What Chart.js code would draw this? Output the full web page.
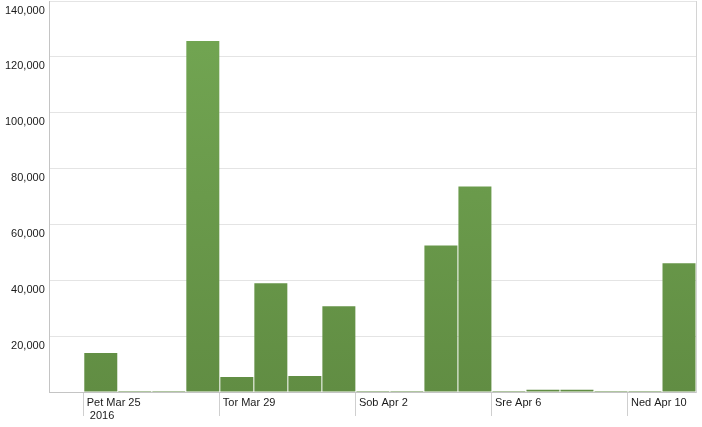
<!DOCTYPE html>
<html>
<head>
<meta charset="utf-8">
<script src="https://cdn.jsdelivr.net/npm/chart.js@4"></script>
<style>
	html, body { margin: 0; padding: 0; background: #fff; }
	#wrap { width: 702px; height: 427px; }
</style>
</head>
<body>
<div id="wrap"><canvas id="chart"></canvas></div>
<script>
// one slot per day, Mar 24 .. Apr 11 (2016)
const days = ['Mar 24', 'Mar 25', 'Mar 26', 'Mar 27', 'Mar 28', 'Mar 29', 'Mar 30', 'Mar 31',
	'Apr 1', 'Apr 2', 'Apr 3', 'Apr 4', 'Apr 5', 'Apr 6', 'Apr 7', 'Apr 8', 'Apr 9', 'Apr 10', 'Apr 11'];
const values = [null, 14000, 350, 350, 125700, 5400, 38900, 5700,
	30700, 350, 350, 52500, 73600, 350, 800, 800, 350, 350, 46100];

// labelled ticks on the time axis
const tickDays = ['Mar 25', 'Mar 29', 'Apr 2', 'Apr 6', 'Apr 10'];
const tickWeekdays = ['Pet', 'Tor', 'Sob', 'Sre', 'Ned'];
const yearLabel = '2016';

const yTicks = [0, 20000, 40000, 60000, 80000, 100000, 120000, 140000];

Chart.defaults.font.family = '"Liberation Sans", Arial, sans-serif';
Chart.defaults.font.size = 11;

function barFill(context) {
	const chart = context.chart;
	const area = chart.chartArea;
	if (!area) return '#66924a';
	const g = chart.ctx.createLinearGradient(0, area.top, 0, area.bottom);
	g.addColorStop(0, '#73a753');
	g.addColorStop(1, '#618d43');
	return g;
}

function dayLabel(index) {
	const k = tickDays.indexOf(days[index]);
	if (k < 0) return '';
	const text = tickWeekdays[k] + ' ' + tickDays[k];
	return k === 0 ? [text, ' ' + yearLabel] : text;
}

function isLabelled(index) {
	return tickDays.indexOf(days[index]) >= 0;
}

let chartID = document.getElementById('chart');
new Chart(chartID, {
	type: 'bar',
	data: {
		labels: days,
		datasets: [{
			data: values,
			backgroundColor: barFill,
			borderWidth: 0,
			barPercentage: 0.97,
			categoryPercentage: 1
		}]
	},
	options: {
		responsive: true,
		maintainAspectRatio: false,
		animation: false,
		layout: { padding: { left: 5, right: 6, top: 1, bottom: 0 } },
		plugins: {
			legend: { display: false },
			tooltip: { enabled: false }
		},
		scales: {
			x: {
				offset: true,
				grid: {
					offset: true,
					drawOnChartArea: false,
					tickLength: 24,
					color: ctx => (ctx.index !== undefined && ctx.tick && isLabelled(ctx.index)) ? '#cfcfcf' : 'rgba(0,0,0,0)'
				},
				border: { display: true, color: '#c4c4c4' },
				// empty title only reserves room under the labels
				title: { display: true, text: '', padding: { top: 6, bottom: 5.4 } },
				ticks: {
					autoSkip: false,
					maxRotation: 0,
					align: 'start',
					labelOffset: -14,
					padding: -20,
					color: '#1a1a1a',
					font: { lineHeight: 1.2 },
					callback: (value, index) => dayLabel(index)
				}
			},
			y: {
				min: 0,
				max: 140000,
				afterBuildTicks: scale => { scale.ticks = yTicks.map(v => ({ value: v })); },
				grid: { color: '#e4e4e4', drawTicks: true, tickLength: 5, tickColor: 'rgba(0,0,0,0)' },
				border: { display: true, color: '#c4c4c4' },
				ticks: {
					align: 'start',
					labelOffset: 4,
					padding: 0,
					color: '#1a1a1a',
					callback: v => v === 0 ? '' : v.toLocaleString('en-US')
				}
			},
			y2: {
				position: 'right',
				min: 0,
				max: 140000,
				grid: { drawOnChartArea: false, drawTicks: false },
				border: { display: true, color: '#d4d4d4' },
				ticks: { display: false }
			}
		}
	}
});
</script>
</body>
</html>
